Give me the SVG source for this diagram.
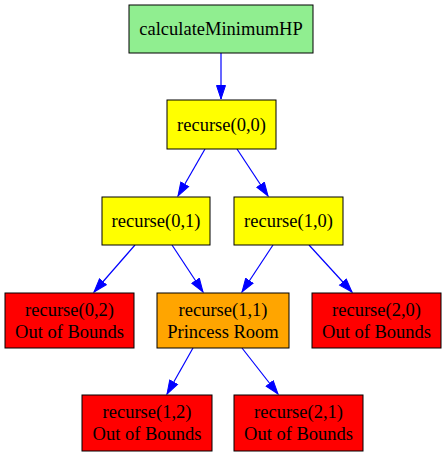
<svg xmlns="http://www.w3.org/2000/svg" width="446" height="456" viewBox="0 0 446 456">
<style>
.n rect{stroke:#000;stroke-width:1}
.n text{font-family:"Liberation Serif","Times New Roman",serif;font-size:18.5px;text-anchor:middle;fill:#000}
.e line{stroke:#0000ff;stroke-width:1.2}
</style>
<defs>
<marker id="ah" markerUnits="userSpaceOnUse" markerWidth="15" markerHeight="12" viewBox="0 0 15 12" refX="14" refY="6" orient="auto">
<path d="M0.5,1.5 L14,6 L0.5,10.5 Z" fill="#0000ff" stroke="#0000ff"/>
</marker>
</defs>
<rect width="446" height="456" fill="#fff"/>
<g id="connectors" class="e">
<line x1="221" y1="53" x2="221" y2="99" marker-end="url(#ah)"/>
<line x1="205" y1="149" x2="178" y2="196" marker-end="url(#ah)"/>
<line x1="237" y1="149" x2="268" y2="196" marker-end="url(#ah)"/>
<line x1="135" y1="245" x2="94" y2="292" marker-end="url(#ah)"/>
<line x1="172" y1="245" x2="203" y2="292" marker-end="url(#ah)"/>
<line x1="273" y1="245" x2="242" y2="292" marker-end="url(#ah)"/>
<line x1="309" y1="245" x2="352" y2="292" marker-end="url(#ah)"/>
<line x1="193" y1="348" x2="167" y2="394" marker-end="url(#ah)"/>
<line x1="242" y1="348" x2="278" y2="394" marker-end="url(#ah)"/>
</g>
<g id="calculateMinimumHP" class="n"><rect x="129" y="5" width="184" height="48" fill="#90ee90"/><text x="221" y="35">calculateMinimumHP</text></g>
<g id="r00" class="n"><rect x="167" y="100" width="109" height="49" fill="#ffff00"/><text x="221.5" y="131">recurse(0,0)</text></g>
<g id="r01" class="n"><rect x="102" y="197" width="108" height="48" fill="#ffff00"/><text x="156" y="227">recurse(0,1)</text></g>
<g id="r10" class="n"><rect x="234" y="197" width="109" height="48" fill="#ffff00"/><text x="288.5" y="227">recurse(1,0)</text></g>
<g id="r02" class="n"><rect x="5" y="293" width="129" height="55" fill="#ff0000"/><text x="69.5" y="316">recurse(0,2)</text><text x="69.5" y="338">Out of Bounds</text></g>
<g id="r11" class="n"><rect x="157" y="293" width="132" height="55" fill="#ffa500"/><text x="223" y="316">recurse(1,1)</text><text x="223" y="338">Princess Room</text></g>
<g id="r20" class="n"><rect x="312" y="293" width="129" height="55" fill="#ff0000"/><text x="376.5" y="316">recurse(2,0)</text><text x="376.5" y="338">Out of Bounds</text></g>
<g id="r12" class="n"><rect x="82" y="395" width="130" height="56" fill="#ff0000"/><text x="147" y="418">recurse(1,2)</text><text x="147" y="440">Out of Bounds</text></g>
<g id="r21" class="n"><rect x="234" y="395" width="129" height="56" fill="#ff0000"/><text x="298.5" y="418">recurse(2,1)</text><text x="298.5" y="440">Out of Bounds</text></g>
</svg>
